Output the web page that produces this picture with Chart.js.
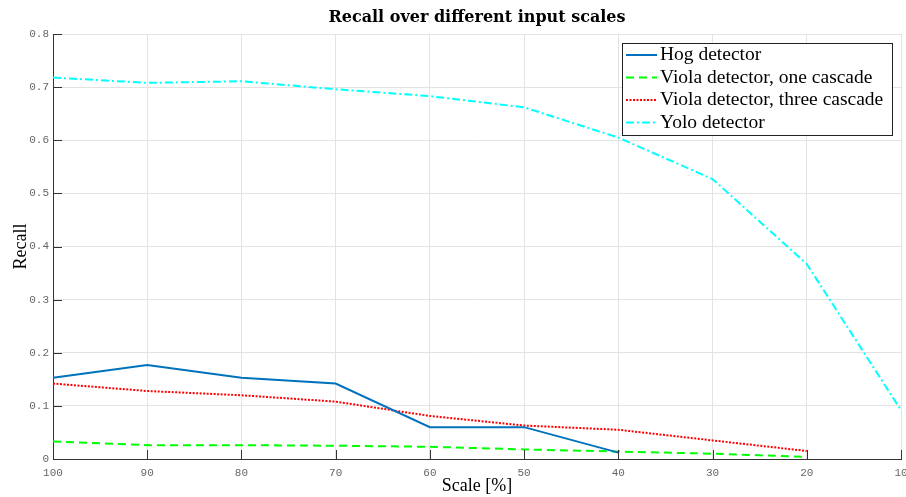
<!DOCTYPE html>
<html>
<head>
<meta charset="utf-8">
<script src="https://cdn.jsdelivr.net/npm/chart.js@4"></script>
<style>
  html, body { margin: 0; padding: 0; background: #fff; }
  #wrap { width: 906px; height: 497px; }
</style>
</head>
<body>
<div id="wrap"><canvas id="myChart" width="906" height="497"></canvas></div>
<script>
// data
const scales = ['100', '90', '80', '70', '60', '50', '40', '30', '20', '10'];
const hog = [0.153, 0.177, 0.153, 0.142, 0.060, 0.060, 0.012, null, null, null];
const violaOne = [0.033, 0.026, 0.026, 0.025, 0.023, 0.018, 0.014, 0.010, 0.004, null];
const violaThree = [0.142, 0.128, 0.120, 0.108, 0.081, 0.063, 0.055, 0.035, 0.015, null];
const yolo = [0.718, 0.708, 0.711, 0.696, 0.683, 0.662, 0.605, 0.527, 0.367, 0.092];
const yTicks = [0, 0.1, 0.2, 0.3, 0.4, 0.5, 0.6, 0.7, 0.8];

const serif = '"Liberation Serif", "DejaVu Serif", serif';
const mono = '"Liberation Mono", "DejaVu Sans Mono", monospace';

// title, inward ticks and the boxed legend inside the plot (MATLAB look)
const matlabBits = {
    id: 'matlabBits',
    afterDraw(chart) {
        const c = chart.ctx;
        const a = chart.chartArea;
        c.save();
        // title
        c.fillStyle = '#000';
        c.font = 'bold 16px "DejaVu Serif", serif';
        c.textAlign = 'center';
        c.textBaseline = 'middle';
        c.fillText('Recall over different input scales', (a.left + a.right) / 2, 18);

        // inward ticks
        c.strokeStyle = '#333';
        c.lineWidth = 1;
        c.beginPath();
        chart.scales.x.ticks.forEach((t, i) => {
            const x = Math.round(chart.scales.x.getPixelForTick(i)) + 0.5;
            c.moveTo(x, a.bottom);
            c.lineTo(x, a.bottom - 9);
        });
        chart.scales.y.ticks.forEach((t, i) => {
            const y = Math.round(chart.scales.y.getPixelForTick(i)) + 0.5;
            c.moveTo(a.left, y);
            c.lineTo(a.left + 9, y);
        });
        c.stroke();

        // legend box
        const bx = 622, by = 43, bw = 270, bh = 92;
        c.fillStyle = '#fff';
        c.fillRect(bx, by, bw, bh);
        c.strokeStyle = '#222';
        c.lineWidth = 1;
        c.strokeRect(bx + 0.5, by + 0.5, bw, bh);
        c.font = '19.5px ' + serif;
        c.textAlign = 'left';
        c.textBaseline = 'middle';
        chart.data.datasets.forEach((ds, i) => {
            const y = by + 12 + i * 22.5;
            c.strokeStyle = ds.borderColor;
            c.lineWidth = ds.borderWidth;
            c.setLineDash(ds.borderDash || []);
            c.beginPath();
            c.moveTo(bx + 4, y);
            c.lineTo(bx + 35, y);
            c.stroke();
            c.setLineDash([]);
            c.fillStyle = '#000';
            c.fillText(ds.label, bx + 38, y);
        });
        c.restore();
    }
};

const ctx = document.getElementById('myChart').getContext('2d');

const myChart = new Chart(ctx, {
    type: 'line',
    data: {
        labels: scales,
        datasets: [{
            label: 'Hog detector',
            data: hog,
            borderColor: '#0072BD',
            borderWidth: 2,
        }, {
            label: 'Viola detector, one cascade',
            data: violaOne,
            borderColor: '#00FF00',
            borderWidth: 2,
            borderDash: [8, 5],
        }, {
            label: 'Viola detector, three cascade',
            data: violaThree,
            borderColor: '#FF0000',
            borderWidth: 2,
            borderDash: [2, 1.5],
        }, {
            label: 'Yolo detector',
            data: yolo,
            borderColor: '#00FFFF',
            borderWidth: 2,
            borderDash: [8, 3, 2, 3],
        }]
    },
    options: {
        responsive: false,
        animation: false,
        elements: {
            point: { radius: 0 },
            line: { tension: 0 }
        },
        spanGaps: false,
        layout: {
            padding: { top: 34, right: 5, left: 0, bottom: 0 }
        },
        plugins: {
            legend: { display: false },
            title: { display: false },
            tooltip: { enabled: false }
        },
        scales: {
            x: {
                type: 'category',
                offset: false,
                grid: { color: '#e3e3e3', drawTicks: false },
                border: { color: '#333', width: 1 },
                ticks: {
                    autoSkip: false,
                    maxRotation: 0,
                    padding: 7,
                    color: '#666',
                    font: { family: mono, size: 11 }
                },
                title: {
                    display: true,
                    text: 'Scale [%]',
                    color: '#000',
                    padding: { top: 2, bottom: 0 },
                    font: { family: serif, size: 18 }
                },
                afterFit(scale) {
                    scale.height = 38;
                    scale.paddingLeft = 0;
                    scale.paddingRight = 0;
                }
            },
            y: {
                min: 0,
                max: 0.8,
                grid: { color: '#e3e3e3', drawTicks: false },
                border: { color: '#333', width: 1 },
                afterBuildTicks(scale) {
                    scale.ticks = yTicks.map(v => ({ value: v }));
                },
                ticks: {
                    padding: 4,
                    color: '#666',
                    font: { family: mono, size: 11 },
                    callback: v => String(Math.round(v * 10) / 10)
                },
                title: {
                    display: true,
                    text: 'Recall',
                    color: '#000',
                    padding: { top: 10, bottom: 0 },
                    font: { family: serif, size: 18 }
                },
                afterFit(scale) {
                    scale.width = 53;
                    scale.paddingTop = 0;
                    scale.paddingBottom = 0;
                }
            }
        }
    },
    plugins: [matlabBits]
});
</script>
</body>
</html>
